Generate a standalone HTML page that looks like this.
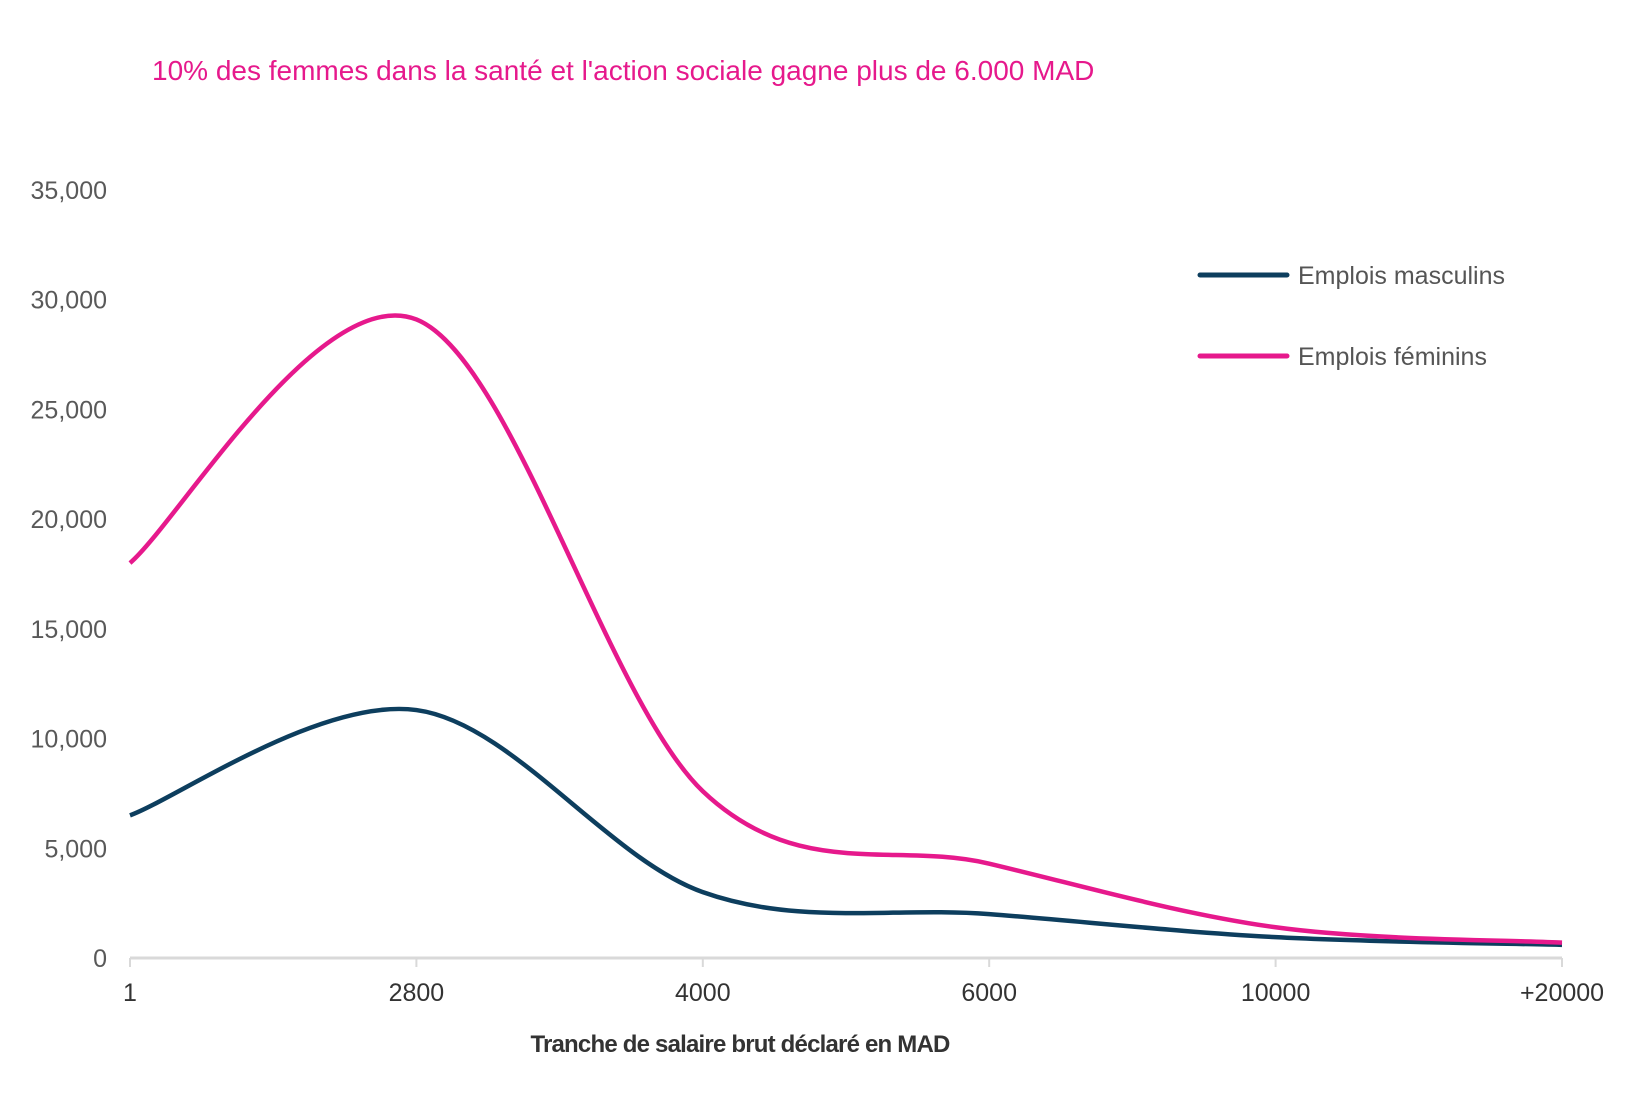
<!DOCTYPE html>
<html><head><meta charset="utf-8"><style>
body{margin:0;background:#fff;}
svg{display:block;font-family:"Liberation Sans",sans-serif;}
</style></head><body>
<svg id="chart" width="1635" height="1098">
<text x="152" y="80" font-size="28" fill="#E6198C">10% des femmes dans la santé et l'action sociale gagne plus de 6.000 MAD</text>
<g id="yaxis"></g>
<g id="xaxis"></g>
<g id="lines"></g>
<text x="740" y="1052" font-size="24" font-weight="bold" fill="#333" text-anchor="middle" letter-spacing="-0.8">Tranche de salaire brut déclaré en MAD</text>
<g>
<line x1="1200" y1="275" x2="1287" y2="275" stroke="#0D3E5E" stroke-width="5" stroke-linecap="round"/>
<text x="1298" y="284" font-size="25" fill="#555">Emplois masculins</text>
<line x1="1200" y1="356" x2="1287" y2="356" stroke="#E6198C" stroke-width="5" stroke-linecap="round"/>
<text x="1298" y="365" font-size="25" fill="#555">Emplois féminins</text>
</g>
</svg>
<script>
const categories = ["1","2800","4000","6000","10000","+20000"];
const male = [6500, 11300, 3000, 2000, 950, 600];
const female = [18000, 29100, 7600, 4300, 1400, 700];
const yTicks = [0,5000,10000,15000,20000,25000,30000,35000];
const NS="http://www.w3.org/2000/svg";
const x0=130,x1=1562,y0=958,y1=190,yMax=35000;
function xs(i){return x0+(x1-x0)*i/(categories.length-1);}
function ys(v){return y0-(y0-y1)*v/yMax;}
function mk(tag,attrs,parent){const e=document.createElementNS(NS,tag);for(const k in attrs)e.setAttribute(k,attrs[k]);parent.appendChild(e);return e;}
const ya=document.getElementById('yaxis'),xa=document.getElementById('xaxis'),lg=document.getElementById('lines');
yTicks.forEach(v=>{
 const t=mk('text',{x:107,y:ys(v)+9,'font-size':25,fill:'#595959','text-anchor':'end'},ya);
 
 
 t.textContent=v.toLocaleString('en-US');
});
const ax=mk('line',{x1:x0,y1:y0,x2:x1,y2:y0,stroke:'#D9D9D9','stroke-width':3},xa);


categories.forEach((c,i)=>{
 const tk=mk('line',{x1:xs(i),y1:y0,x2:xs(i),y2:y0+9,stroke:'#D9D9D9','stroke-width':2},xa);
 
 
 const t=mk('text',{x:xs(i),y:y0+43,'font-size':25,fill:'#333','text-anchor':'middle'},xa);
 
 
 t.textContent=c;
});
function path(vals){
 const p=vals.map((v,i)=>[xs(i),ys(v)]);
 let d=`M${p[0][0]},${p[0][1]}`;
 const k=1/6;
 for(let i=0;i<p.length-1;i++){
  const a=p[i-1]||p[i],b=p[i],c=p[i+1],e=p[i+2]||c;
  const c1=[b[0]+(c[0]-a[0])*k,b[1]+(c[1]-a[1])*k];
  const c2=[c[0]-(e[0]-b[0])*k,c[1]-(e[1]-b[1])*k];
  d+=` C${c1[0]},${c1[1]} ${c2[0]},${c2[1]} ${c[0]},${c[1]}`;
 }
 return d;
}
const lm=mk('path',{d:path(male),fill:'none',stroke:'#0D3E5E','stroke-width':4.5},lg);


const lf=mk('path',{d:path(female),fill:'none',stroke:'#E6198C','stroke-width':4.5},lg);


</script>
</body></html>
